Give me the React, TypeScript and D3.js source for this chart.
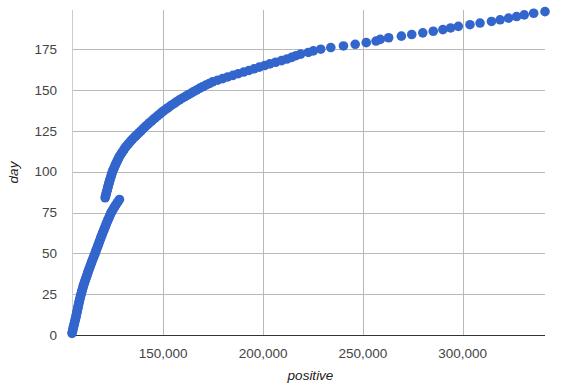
import React from "react";
import * as d3 from "d3";

const days = [
  1,2,3,4,5,6,7,8,9,10,11,12,13,14,15,16,17,18,19,20,
  21,22,23,24,25,26,27,28,29,30,31,32,33,34,35,36,37,38,39,40,
  41,42,43,44,45,46,47,48,49,50,51,52,53,54,55,56,57,58,59,60,
  61,62,63,64,65,66,67,68,69,70,71,72,73,74,75,76,77,78,79,80,
  81,82,83,84,85,86,87,88,89,90,91,92,93,94,95,96,97,98,99,100,
  101,102,103,104,105,106,107,108,109,110,111,112,113,114,115,116,117,118,119,120,
  121,122,123,124,125,126,127,128,129,130,131,132,133,134,135,136,137,138,139,140,
  141,142,143,144,145,146,147,148,149,150,151,152,153,154,155,156,157,158,159,160,
  161,162,163,164,165,166,167,168,169,170,171,172,173,174,175,176,177,178,179,180,
  181,182,183,184,185,186,187,188,189,190,191,192,193,194,195,196,197,198,
];

const positive = [
  104300,104500,104700,104850,105050,105260,105460,105660,105860,106060,
  106260,106410,106610,106760,106970,107120,107320,107470,107670,107820,
  108020,108220,108420,108630,108830,109080,109280,109530,109730,109980,
  110240,110540,110790,111090,111340,111640,111900,112200,112450,112750,
  113050,113350,113660,113960,114260,114560,114910,115220,115570,115870,
  116170,116470,116770,117080,117380,117680,117980,118280,118590,118890,
  119190,119540,119840,120200,120500,120850,121150,121500,121800,122160,
  122510,122860,123210,123570,123920,124420,124920,125430,125930,126430,
  126990,127540,128090,
  120900,121100,121300,121500,121750,121960,122160,122410,122610,122860,
  123060,123310,123570,123820,124070,124320,124570,124920,125280,125630,
  125980,126330,126730,127140,127540,127940,128440,129000,129500,130050,
  130560,131110,131810,132520,133220,133930,134630,135490,136340,137150,
  138000,138860,139710,140520,141370,142280,143180,144140,145040,146000,
  147000,147960,148920,149920,151080,152190,153340,154550,155760,156910,
  158120,159530,160990,162400,163810,165260,166670,168180,169690,171350,
  173060,174720,177240,179750,182270,184930,187600,190310,192930,195490,
  198110,200780,203390,206310,209280,211940,214310,216470,218830,222660,
  225170,228890,233920,240260,246150,251680,256560,258720,262900,269280,
  274470,280000,285230,290060,293930,297800,303640,308670,314400,318730,
  322960,326980,330810,335540,341210,
];

const xTicks = [150000, 200000, 250000, 300000];
const yTicks = [0, 25, 50, 75, 100, 125, 150, 175];
const yMax = 199;

const W = 567;
const H = 388;
const M = { left: 72, right: 545, top: 10, bottom: 335 };

export default function App() {
  const x = d3
    .scaleLinear()
    .domain([d3.min(positive) as number, d3.max(positive) as number])
    .range([M.left, M.right]);
  const y = d3.scaleLinear().domain([0, yMax]).range([M.bottom, M.top]);
  const fmt = d3.format(",");
  const font = "Arial, 'Liberation Sans', sans-serif";
  const pts = days.map((d, i) => ({ d, p: positive[i] }));

  return (
    <svg
      width={W}
      height={H}
      style={{ position: "absolute", left: 0, top: 0, background: "#fff" }}
      fontFamily={font}
    >
      <rect x={0} y={0} width={W} height={H} fill="#fff" />
      {/* horizontal gridlines */}
      {yTicks.filter((t) => t !== 0).map((t) => (
        <line key={"hy" + t} x1={M.left} x2={M.right} y1={Math.round(y(t)) + 0.5} y2={Math.round(y(t)) + 0.5} stroke="#b8b8b8" strokeWidth={1} />
      ))}
      {/* vertical gridlines */}
      {xTicks.map((t) => (
        <line key={"vx" + t} x1={Math.round(x(t)) + 0.5} x2={Math.round(x(t)) + 0.5} y1={M.top} y2={M.bottom} stroke="#b8b8b8" strokeWidth={1} />
      ))}
      <line x1={M.left + 0.5} x2={M.left + 0.5} y1={M.top} y2={M.bottom} stroke="#cccccc" strokeWidth={1} />
      {/* baseline */}
      <line x1={M.left} x2={M.right} y1={Math.round(y(0)) + 0.5} y2={Math.round(y(0)) + 0.5} stroke="#333" strokeWidth={1} />
      {/* points */}
      {pts.map((o) => (
        <circle key={o.d} cx={x(o.p)} cy={y(o.d)} r={4.8} fill="#3366cc" />
      ))}
      {/* y tick labels */}
      {yTicks.map((t) => (
        <text key={"yl" + t} x={57} y={y(t) + 4.8} textAnchor="end" fontSize={13.5} fill="#444">
          {t}
        </text>
      ))}
      {/* x tick labels */}
      {xTicks.map((t) => (
        <text key={"xl" + t} x={x(t)} y={358} textAnchor="middle" fontSize={13.5} fill="#444">
          {fmt(t)}
        </text>
      ))}
      <text x={(M.left + M.right) / 2 + 2} y={380} textAnchor="middle" fontSize={13.5} fontStyle="italic" fill="#222">
        positive
      </text>
      <text
        transform={`translate(18, ${(M.top + M.bottom) / 2}) rotate(-90)`}
        textAnchor="middle"
        fontSize={13.5}
        fontStyle="italic"
        fill="#222"
      >
        day
      </text>
    </svg>
  );
}
